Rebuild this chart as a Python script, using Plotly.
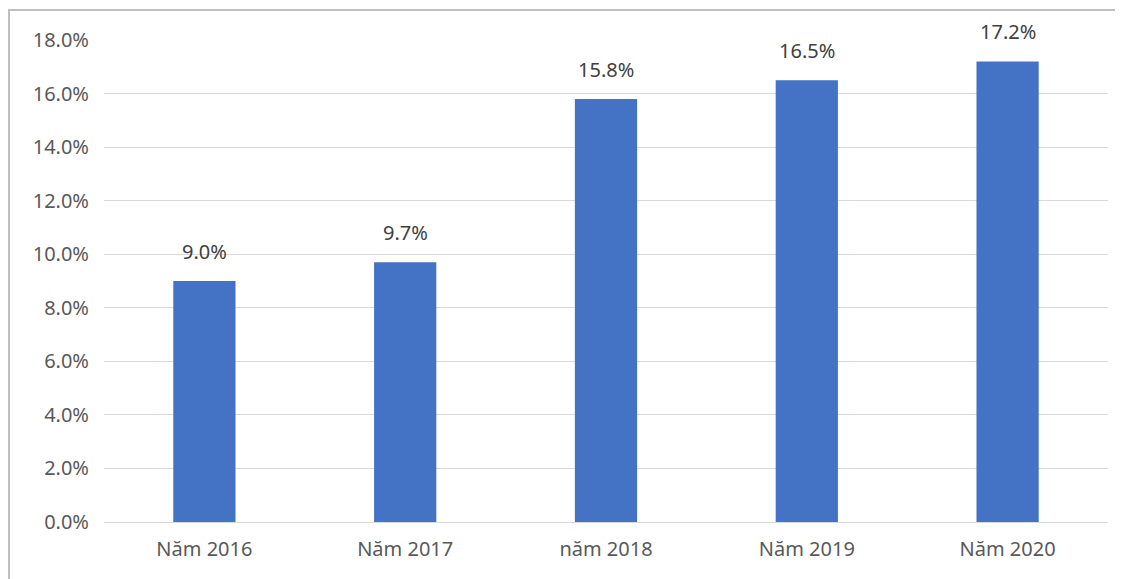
import plotly.graph_objects as go

categories = ["Năm 2016", "Năm 2017", "năm 2018", "Năm 2019", "Năm 2020"]
values = [0.090, 0.097, 0.158, 0.165, 0.172]
tick_vals = [0.0, 0.02, 0.04, 0.06, 0.08, 0.10, 0.12, 0.14, 0.16, 0.18]
labels = [f"{v*100:.1f}%" for v in values]

OFF = 8  # page body margin
W, H = 1123 - OFF, 579 - OFF
L, R, T, B = 104 - OFF, 15, 40 - OFF, 57
pw = W - L - R
ph = H - T - B
FONT = "Noto Sans, Open Sans, sans-serif"

fig = go.Figure(go.Bar(
    x=categories, y=values,
    marker=dict(color="#4472C4", line=dict(width=0)),
    width=0.31,
    hoverinfo="skip",
))

for c, v, t in zip(categories, values, labels):
    fig.add_annotation(x=c, y=v, text=t, showarrow=False, yanchor="bottom",
                       yshift=14, font=dict(family=FONT, size=20, color="#404040"))

fig.update_layout(
    width=W, height=H,
    margin=dict(l=L, r=R, t=T, b=B),
    paper_bgcolor="white", plot_bgcolor="white",
    font=dict(family=FONT, size=20, color="#595959"),
    showlegend=False,
    xaxis=dict(showgrid=False, showline=True, linecolor="#d9d9d9", linewidth=1,
               ticks="", ticklabelstandoff=9, tickfont=dict(size=20, color="#595959")),
    yaxis=dict(range=[0, 0.18], tickvals=tick_vals, tickformat=".1%",
               showgrid=True, gridcolor="#d9d9d9", gridwidth=1,
               zeroline=False, showline=False, ticks="", ticklabelstandoff=14,
               tickfont=dict(size=20, color="#595959")),
    shapes=[dict(type="rect", xref="paper", yref="paper",
                 x0=(9 - 104) / pw, x1=(1121 - 104) / pw,
                 y0=-0.3, y1=1 + (40 - 10) / ph,
                 line=dict(color="#bfbfbf", width=2), fillcolor="rgba(0,0,0,0)",
                 layer="below")],
)

fig.write_html("out.html")
